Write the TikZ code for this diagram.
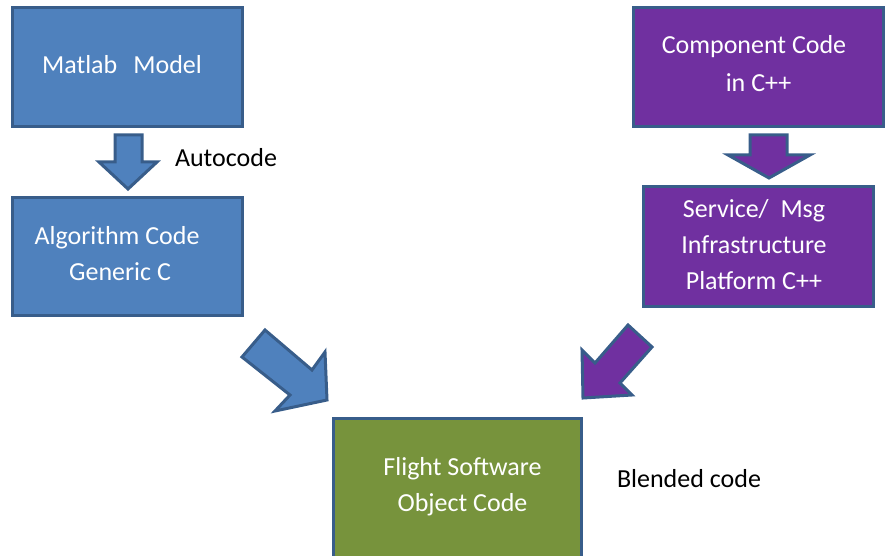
\documentclass[tikz,border=0pt]{standalone}
\usepackage{fontspec}
\setmainfont{Carlito}
\definecolor{bluefill}{HTML}{4F81BD}
\definecolor{purplefill}{HTML}{7030A0}
\definecolor{greenfill}{HTML}{77933C}
\definecolor{edgeblue}{HTML}{385D8A}
\tikzset{
  box/.style={draw=edgeblue, line width=3pt, rectangle, inner sep=0pt, outer sep=0pt},
  barrow/.style={draw=edgeblue, line width=3pt, line join=miter},
  boxtext/.style={text=white, font=\fontsize{26}{36}\selectfont, align=center, inner sep=0pt},
  plaintext/.style={text=black, font=\fontsize{26}{36}\selectfont, inner sep=0pt}
}
\begin{document}
\begin{tikzpicture}[x=1pt,y=-1pt]
\useasboundingbox (0,0) rectangle (885,556);
\clip (0,0) rectangle (885,556);
% boxes
\node[box, fill=bluefill, minimum width=230pt, minimum height=119pt] (matlab) at (127.5,67) {};
\node[box, fill=bluefill, minimum width=230pt, minimum height=118pt] (algo) at (127.5,256.5) {};
\node[box, fill=purplefill, minimum width=250pt, minimum height=119pt] (comp) at (758.5,67) {};
\node[box, fill=purplefill, minimum width=230pt, minimum height=120pt] (serv) at (758.5,246.5) {};
\node[box, fill=greenfill, minimum width=248pt, minimum height=170pt] (flight) at (457.5,503.5) {};
% texts
\node[boxtext, anchor=base] (tmatlab) at (122,74) {Matlab\hspace{16pt}Model};
\node[boxtext] (talgo) at (117,254) {Algorithm Code\\\hspace{6pt}Generic C};
\node[boxtext, font=\fontsize{26}{38}\selectfont] (tcomp) at (754,64) {Component Code\hspace{8pt}\\\hspace{9pt}in C++};
\node[boxtext] (tserv) at (754,245) {Service/\ \ Msg\\Infrastructure\\Platform C++};
\node[boxtext] (tflight) at (462.5,486.5) {Flight Software\\Object Code};
\node[plaintext, anchor=base] (autocode) at (226,167) {Autocode};
\node[plaintext, anchor=base] (blended) at (689,487) {Blended code};
% block arrows
\draw[barrow, fill=bluefill] (115,135) -- (142,135) -- (142,162) -- (157,162) -- (128,189) -- (99,162) -- (115,162) -- cycle;
\draw[barrow, fill=purplefill] (750,135) -- (787,135) -- (787,155) -- (810,155) -- (769,178) -- (728,155) -- (750,155) -- cycle;
\draw[barrow, fill=bluefill] (242,357) -- (265,330) -- (312,370) -- (325,352) -- (327,400) -- (275,411) -- (290,395) -- cycle;
\draw[barrow, fill=purplefill] (628,325) -- (652,347) -- (620,383) -- (632,395) -- (583,398) -- (582,350) -- (595,363) -- cycle;
\end{tikzpicture}
\end{document}
